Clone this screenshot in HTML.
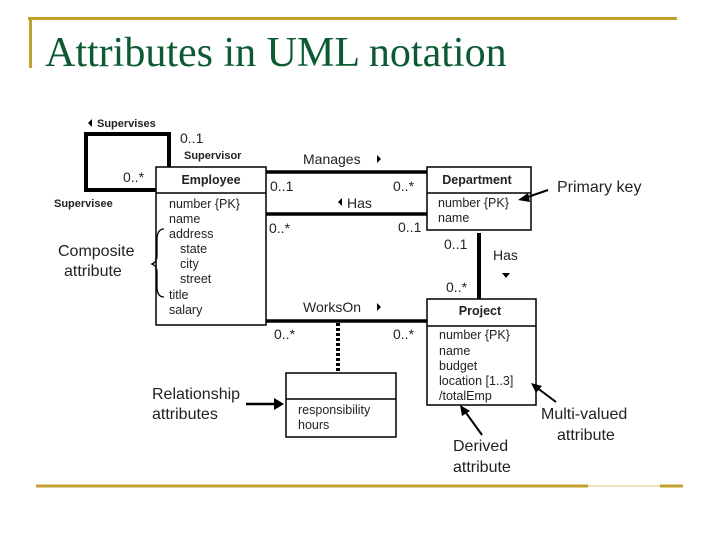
<!DOCTYPE html>
<html><head><meta charset="utf-8"><style>
html,body{margin:0;padding:0;background:#fff;}
svg{display:block;}
text{font-family:"Liberation Sans","DejaVu Sans",sans-serif;fill:#222;}
.t{font-family:"Liberation Serif",serif;fill:#0b5a32;}
.b{font-weight:bold;}
</style></head><body>
<svg width="720" height="540" viewBox="0 0 720 540" xmlns="http://www.w3.org/2000/svg">
<line x1="28" y1="18.5" x2="677" y2="18.5" stroke="#c2a032" stroke-width="3"/>
<line x1="30.5" y1="18" x2="30.5" y2="68" stroke="#c2a032" stroke-width="3"/>
<line x1="36" y1="486" x2="588" y2="486" stroke="#c2a032" stroke-width="3"/>
<line x1="588" y1="486" x2="660" y2="486" stroke="#efe3b8" stroke-width="2"/>
<line x1="660" y1="486" x2="683" y2="486" stroke="#c2a032" stroke-width="3"/>
<text class="t" x="45" y="66" font-size="42">Attributes in UML notation</text>

<g stroke="#000" fill="none">
<polyline points="169,167 169,134 86,134 86,190 156,190" stroke-width="4"/>
<line x1="266" y1="172" x2="427" y2="172" stroke-width="3.5"/>
<line x1="266" y1="214" x2="427" y2="214" stroke-width="3.5"/>
<line x1="266" y1="321" x2="427" y2="321" stroke-width="3.5"/>
<line x1="479" y1="233" x2="479" y2="299" stroke-width="4"/>
<line x1="338" y1="323" x2="338" y2="373" stroke-width="4" stroke-dasharray="3,2"/>
<rect x="156" y="167" width="110" height="158" fill="#fff" stroke-width="1.5"/>
<line x1="156" y1="193" x2="266" y2="193" stroke-width="1.5"/>
<rect x="427" y="167" width="104" height="63" fill="#fff" stroke-width="1.5"/>
<line x1="427" y1="193" x2="531" y2="193" stroke-width="1.5"/>
<rect x="427" y="299" width="109" height="106" fill="#fff" stroke-width="1.5"/>
<line x1="427" y1="326" x2="536" y2="326" stroke-width="1.5"/>
<rect x="286" y="373" width="110" height="64" fill="#fff" stroke-width="1.5"/>
<line x1="286" y1="399" x2="396" y2="399" stroke-width="1.5"/>
<path d="M164,229 Q157,229 157,240 L157,256 Q157,262 152,264 Q157,266 157,272 L157,287 Q157,297 164,297" stroke-width="1.3"/>
<line x1="548" y1="190" x2="522" y2="199" stroke-width="2"/>
<line x1="246" y1="404" x2="276" y2="404" stroke-width="2.5"/>
<line x1="556" y1="402" x2="536" y2="387" stroke-width="2"/>
<line x1="482" y1="435" x2="464" y2="410" stroke-width="2"/>
</g>
<g fill="#000">
<polygon points="518,200 528,193 530,202"/>
<polygon points="284,404 274,398 274,410"/>
<polygon points="531,383 542,386 536,393"/>
<polygon points="460,405 470,411 462,416"/>
<polygon points="88,123 92,119 92,127"/>
<polygon points="381,159 377,155 377,163"/>
<polygon points="338,202 342,198 342,206"/>
<polygon points="381,307 377,303 377,311"/>
<polygon points="502,273 510,273 506,278"/>
</g>

<text class="b" x="97" y="127" font-size="11">Supervises</text>
<text x="180" y="143" font-size="14">0..1</text>
<text class="b" x="184" y="159" font-size="11">Supervisor</text>
<text x="123" y="182" font-size="14">0..*</text>
<text class="b" x="54" y="207" font-size="11">Supervisee</text>

<text x="303" y="164" font-size="14">Manages</text>
<text x="270" y="191" font-size="14">0..1</text>
<text x="393" y="191" font-size="14">0..*</text>
<text x="347" y="208" font-size="14">Has</text>
<text x="269" y="233" font-size="14">0..*</text>
<text x="398" y="232" font-size="14">0..1</text>
<text x="444" y="249" font-size="14">0..1</text>
<text x="493" y="260" font-size="14">Has</text>
<text x="446" y="292" font-size="14">0..*</text>
<text x="303" y="312" font-size="14">WorksOn</text>
<text x="274" y="339" font-size="14">0..*</text>
<text x="393" y="339" font-size="14">0..*</text>

<text class="b" x="211" y="184" font-size="12.5" text-anchor="middle">Employee</text>
<g font-size="12.5">
<text x="169" y="208">number {PK}</text>
<text x="169" y="223">name</text>
<text x="169" y="238">address</text>
<text x="180" y="253">state</text>
<text x="180" y="268">city</text>
<text x="180" y="283">street</text>
<text x="169" y="299">title</text>
<text x="169" y="314">salary</text>
</g>
<text class="b" x="477" y="184" font-size="12.5" text-anchor="middle">Department</text>
<text x="438" y="207" font-size="12.5">number {PK}</text>
<text x="438" y="222" font-size="12.5">name</text>
<text class="b" x="480" y="315" font-size="12.5" text-anchor="middle">Project</text>
<g font-size="12.5">
<text x="439" y="339">number {PK}</text>
<text x="439" y="355">name</text>
<text x="439" y="370">budget</text>
<text x="439" y="385">location [1..3]</text>
<text x="439" y="400">/totalEmp</text>
</g>
<text x="298" y="414" font-size="12.5">responsibility</text>
<text x="298" y="429" font-size="12.5">hours</text>

<g font-size="16">
<text x="557" y="192">Primary key</text>
<text x="58" y="256">Composite</text>
<text x="64" y="276">attribute</text>
<text x="152" y="399">Relationship</text>
<text x="152" y="419">attributes</text>
<text x="541" y="419">Multi-valued</text>
<text x="557" y="440">attribute</text>
<text x="453" y="451">Derived</text>
<text x="453" y="472">attribute</text>
</g>
</svg>
</body></html>
